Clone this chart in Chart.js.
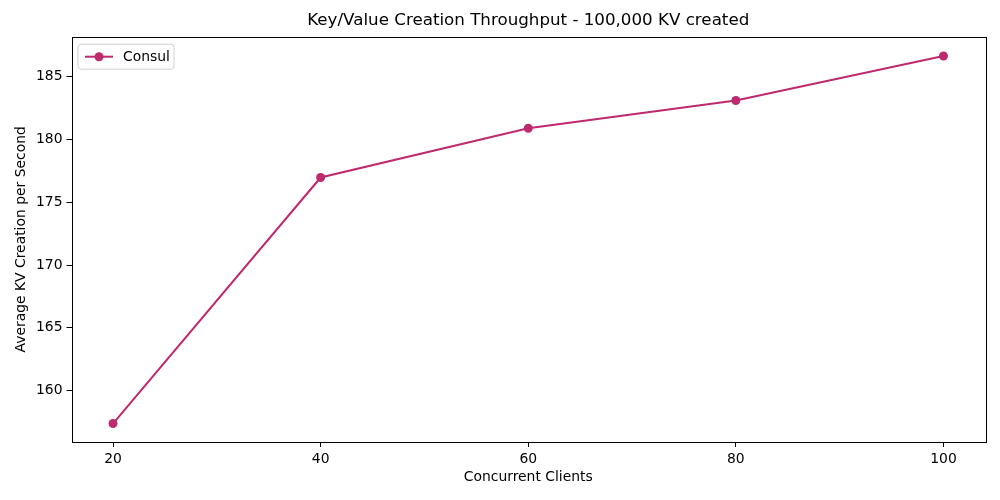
<!DOCTYPE html>
<html>
<head>
<meta charset="utf-8">
<script src="https://cdn.jsdelivr.net/npm/chart.js@4"></script>
<style>
html,body{margin:0;padding:0;background:#fff;}
#wrap{width:1000px;height:500px;}
</style>
</head>
<body>
<div id="wrap"><canvas id="c" width="1000" height="500"></canvas></div>
<script>
const clients = [20, 40, 60, 80, 100];
const consulValues = [157.37, 176.98, 180.90, 183.12, 186.66];
const xTicks = [20, 40, 60, 80, 100];
const yTicks = [160, 165, 170, 175, 180, 185];
const chartTitle = "Key/Value Creation Throughput - 100,000 KV created";
const xTitle = "Concurrent Clients";
const yTitle = "Average KV Creation per Second";
const seriesLabel = "Consul";

const COLOR = '#bf2a6e';
const FONT = "'DejaVu Sans', sans-serif";
Chart.defaults.font.family = FONT;
Chart.defaults.color = '#000';

const framePlugin = {
  id: 'frame',
  afterDraw(chart) {
    const {ctx, chartArea: a} = chart;
    ctx.save();
    ctx.strokeStyle = '#000';
    ctx.lineWidth = 1;
    ctx.strokeRect(Math.round(a.left) + 0.5, Math.round(a.top) + 0.5, Math.round(a.right - a.left), Math.round(a.bottom - a.top));
    // title
    ctx.fillStyle = '#000';
    ctx.font = "16.7px " + FONT;
    ctx.textAlign = 'center';
    ctx.textBaseline = 'middle';
    ctx.fillText(chartTitle, (a.left + a.right) / 2, 21);
    // legend
    const lx = a.left + 6.5, ly = a.top + 7.5, lw = 96, lh = 25;
    ctx.fillStyle = 'rgba(255,255,255,0.8)';
    ctx.strokeStyle = '#d0d0d0';
    ctx.beginPath();
    if (ctx.roundRect) ctx.roundRect(lx, ly, lw, lh, 3); else ctx.rect(lx, ly, lw, lh);
    ctx.fill();
    ctx.stroke();
    const cy = ly + lh / 2;
    ctx.strokeStyle = COLOR;
    ctx.lineWidth = 2;
    ctx.beginPath();
    ctx.moveTo(lx + 7, cy);
    ctx.lineTo(lx + 35, cy);
    ctx.stroke();
    ctx.fillStyle = COLOR;
    ctx.beginPath();
    ctx.arc(lx + 21, cy, 4.5, 0, Math.PI * 2);
    ctx.fill();
    ctx.fillStyle = '#000';
    ctx.font = "13.9px " + FONT;
    ctx.textAlign = 'left';
    ctx.fillText(chart.data.datasets[0].label, lx + 45, cy + 0.5);
    ctx.restore();
  }
};

new Chart(document.getElementById('c'), {
  type: 'line',
  data: {
    datasets: [{
      label: seriesLabel,
      data: clients.map((x, i) => ({x: x, y: consulValues[i]})),
      borderColor: COLOR,
      backgroundColor: COLOR,
      borderWidth: 2,
      pointRadius: 4.5,
      pointHoverRadius: 4.5,
      pointBorderWidth: 0,
      tension: 0
    }]
  },
  options: {
    responsive: false,
    animation: false,
    events: [],
    layout: {padding: {left: 0, right: 15, top: 36.7, bottom: 0}},
    plugins: {legend: {display: false}, title: {display: false}, tooltip: {enabled: false}},
    scales: {
      x: {
        type: 'linear',
        min: 16, max: 104,
        afterBuildTicks(s) { s.ticks = xTicks.map(v => ({value: v})); },
        afterFit(s) { s.height = 58; },
        grid: {drawOnChartArea: false, drawTicks: true, tickLength: 5, tickColor: '#000'},
        border: {display: false},
        ticks: {font: {size: 13.9}, color: '#000', padding: 4, maxRotation: 0},
        title: {display: true, text: xTitle, font: {size: 13.9}, color: '#000', padding: {top: 0, bottom: 14.7}}
      },
      y: {
        type: 'linear',
        min: 155.9, max: 188.2,
        afterBuildTicks(s) { s.ticks = yTicks.map(v => ({value: v})); },
        afterFit(s) { s.width = 71.5; },
        grid: {drawOnChartArea: false, drawTicks: true, tickLength: 5, tickColor: '#000'},
        border: {display: false},
        ticks: {font: {size: 13.9}, color: '#000', padding: 4},
        title: {display: true, text: yTitle, font: {size: 13.9}, color: '#000', padding: {top: 12.7, bottom: 0}}
      }
    }
  },
  plugins: [framePlugin]
});
</script>
</body>
</html>
